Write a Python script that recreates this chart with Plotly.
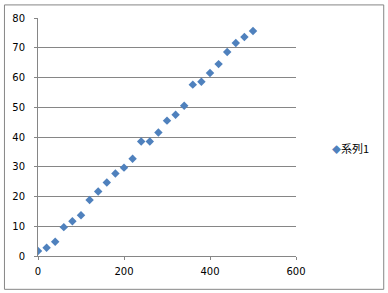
import plotly.graph_objects as go

x_values = [0, 20, 40, 60, 80, 100, 120, 140, 160, 180, 200, 220, 240, 260,
            280, 300, 320, 340, 360, 380, 400, 420, 440, 460, 480, 500]
y_values = [1.7, 2.8, 4.8, 9.7, 11.7, 13.7, 18.8, 21.7, 24.7, 27.7, 29.7, 32.7, 38.5,
            38.5, 41.5, 45.5, 47.5, 50.5, 57.6, 58.6, 61.5, 64.5, 68.6, 71.6, 73.6, 75.6]
series_name = "系列1"
x_ticks = [0, 200, 400, 600]
y_ticks = [0, 10, 20, 30, 40, 50, 60, 70, 80]

grid = "#868686"
marker_color = "#4F81BD"
num_font = "DejaVu Sans, sans-serif"
cjk_font = "Noto Sans CJK JP, DejaVu Sans, sans-serif"

fig = go.Figure()
fig.add_trace(go.Scatter(
    x=x_values, y=y_values, mode="markers", name=series_name,
    marker=dict(symbol="diamond", size=6.5, color=marker_color, line=dict(width=0)),
    showlegend=False,
))

fig.update_layout(
    width=388, height=293,
    margin=dict(l=36, r=92, t=16, b=37),
    paper_bgcolor="white", plot_bgcolor="white",
    font=dict(family=num_font, size=10, color="black"),
    xaxis=dict(range=[0, 600], tickvals=x_ticks, showgrid=False, zeroline=False,
               showline=True, linecolor=grid, linewidth=1,
               ticks="outside", ticklen=3, tickcolor=grid, ticklabelstandoff=3),
    yaxis=dict(range=[0, 80], tickvals=y_ticks, showgrid=True, gridcolor=grid, gridwidth=1,
               zeroline=False, showline=True, linecolor=grid, linewidth=1,
               ticks="outside", ticklen=3, tickcolor=grid, ticklabelstandoff=7),
    shapes=[dict(type="rect", xref="paper", yref="paper", x0=-0.13, x1=1.34,
                 y0=-0.14, y1=1.055, line=dict(color="#868686", width=1))],
    annotations=[dict(
        xref="paper", yref="paper", x=1.13, y=0.455, xanchor="left", yanchor="middle",
        showarrow=False,
        text=f"<span style='color:{marker_color};font-size:9px'>◆</span>{series_name}",
        font=dict(family=cjk_font, size=11, color="black"),
    )],
)

fig.write_html("out.html")
